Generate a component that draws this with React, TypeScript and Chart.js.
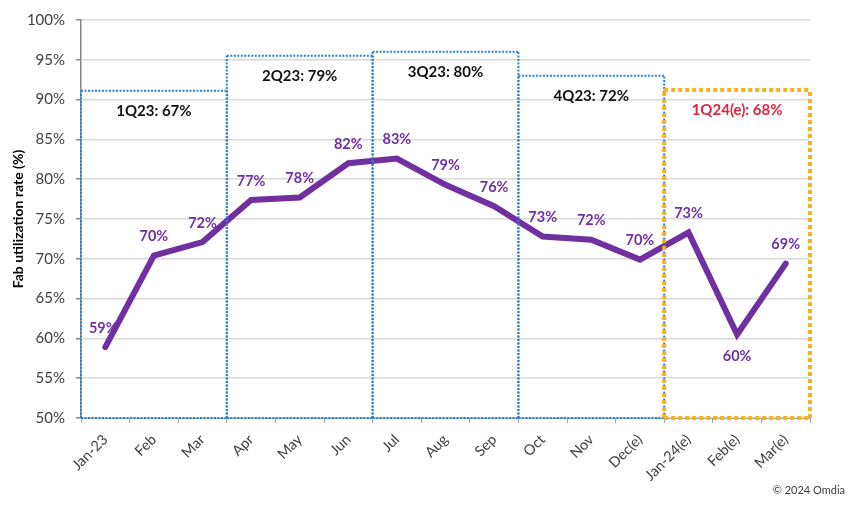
import React, { useEffect, useRef } from "react";
import { Chart, registerables } from "chart.js";

Chart.register(...registerables);

const categories = [
  "Jan-23", "Feb", "Mar", "Apr", "May", "Jun", "Jul", "Aug", "Sep",
  "Oct", "Nov", "Dec(e)", "Jan-24(e)", "Feb(e)", "Mar(e)",
];
const utilization = [58.9, 70.4, 72.1, 77.4, 77.7, 82.0, 82.6, 79.3, 76.6, 72.8, 72.4, 69.9, 73.3, 60.5, 69.4];
const pointLabels = ["59%", "70%", "72%", "77%", "78%", "82%", "83%", "79%", "76%", "73%", "72%", "70%", "73%", "60%", "69%"];

const quarterNames = ["1Q23: 67%", "2Q23: 79%", "3Q23: 80%", "4Q23: 72%", "1Q24(e): 68%"];
const quarterStart = [0, 3, 6, 9, 12];
const quarterEnd = [2, 5, 8, 11, 14];
const quarterTop = [91.1, 95.5, 96.0, 93.0, 91.2];
const quarterEstimated = [false, false, false, false, true];

const yTicksMin = 50;
const yTicksMax = 100;
const yTickStep = 5;

const FONT = 'Lato, "Noto Sans", sans-serif';
const PURPLE = "#7030a0";
const BLUE = "#2a80d2";
const ORANGE = "#f4b122";
const RED = "#e0253f";

function line(ctx: CanvasRenderingContext2D, x1: number, y1: number, x2: number, y2: number) {
  ctx.beginPath();
  ctx.moveTo(x1, y1);
  ctx.lineTo(x2, y2);
  ctx.stroke();
}

const overlayPlugin = {
  id: "overlay",
  afterDatasetsDraw(chart: any) {
    const ctx = chart.ctx;
    const x = chart.scales.x;
    const y = chart.scales.y;
    const half = (x.getPixelForValue(1) - x.getPixelForValue(0)) / 2;

    // quarter boxes (blue first, estimated orange last)
    const order = quarterNames.map((_, i) => i).sort((a, b) => Number(quarterEstimated[a]) - Number(quarterEstimated[b]));
    order.forEach((i) => {
      const left = x.getPixelForValue(quarterStart[i]) - half;
      const right = x.getPixelForValue(quarterEnd[i]) + half;
      const top = y.getPixelForValue(quarterTop[i]);
      const bottom = y.getPixelForValue(yTicksMin);
      ctx.save();
      if (quarterEstimated[i]) {
        ctx.strokeStyle = ORANGE;
        ctx.lineWidth = 4;
        ctx.setLineDash([4, 3]);
      } else {
        ctx.strokeStyle = BLUE;
        ctx.lineWidth = 2;
        ctx.setLineDash([2, 1.5]);
      }
      line(ctx, left, top, right, top);
      line(ctx, left, bottom, left, top);
      line(ctx, right, bottom, right, top);
      line(ctx, left, bottom, right, bottom);
      ctx.restore();
    });

    // quarter labels
    quarterNames.forEach((name, i) => {
      const left = x.getPixelForValue(quarterStart[i]) - half;
      const right = x.getPixelForValue(quarterEnd[i]) + half;
      const top = y.getPixelForValue(quarterTop[i]);
      ctx.save();
      ctx.font = `bold 15px ${FONT}`;
      ctx.fillStyle = quarterEstimated[i] ? RED : "#111111";
      ctx.textAlign = "center";
      ctx.textBaseline = "middle";
      ctx.fillText(name, (left + right) / 2, top + 20);
      ctx.restore();
    });

    // point labels
    const meta = chart.getDatasetMeta(0);
    const BELOW = new Set([13]);
    meta.data.forEach((pt: any, i: number) => {
      ctx.save();
      ctx.font = `bold 14.5px ${FONT}`;
      ctx.fillStyle = PURPLE;
      ctx.textAlign = "center";
      ctx.textBaseline = "middle";
      const dy = BELOW.has(i) ? 22 : -19;
      const dx = i === 0 ? -2 : 0;
      ctx.fillText(pointLabels[i], pt.x + dx, pt.y + dy);
      ctx.restore();
    });

    // y-axis title
    ctx.save();
    ctx.translate(18, (chart.chartArea.top + chart.chartArea.bottom) / 2);
    ctx.rotate(-Math.PI / 2);
    ctx.font = `bold 14px ${FONT}`;
    ctx.fillStyle = "#000000";
    ctx.textAlign = "center";
    ctx.textBaseline = "middle";
    ctx.fillText("Fab utilization rate (%)", 0, 0);
    ctx.restore();

    // copyright
    ctx.save();
    ctx.font = `11px ${FONT}`;
    ctx.fillStyle = "#404040";
    ctx.textAlign = "right";
    ctx.textBaseline = "middle";
    ctx.fillText("\u00a9 2024 Omdia", 845, 490);
    ctx.restore();
  },
};

export default function App() {
  const canvasRef = useRef<HTMLCanvasElement | null>(null);

  useEffect(() => {
    if (!canvasRef.current) return;
    const chart = new Chart(canvasRef.current, {
      type: "line",
      data: {
        labels: categories,
        datasets: [
          {
            data: utilization,
            borderColor: PURPLE,
            backgroundColor: PURPLE,
            borderWidth: 6,
            borderCapStyle: "round",
            borderJoinStyle: "miter",
            pointRadius: 0,
            pointHoverRadius: 0,
            tension: 0,
          },
        ],
      },
      options: {
        animation: false,
        responsive: true,
        maintainAspectRatio: false,
        devicePixelRatio: 1,
        layout: { padding: { left: 0, top: 20, right: 52, bottom: 0 } },
        plugins: {
          legend: { display: false },
          tooltip: { enabled: false },
        },
        scales: {
          x: {
            offset: true,
            grid: {
              display: true,
              drawOnChartArea: false,
              offset: true,
              tickLength: 5,
              tickColor: "#a6a6a6",
            },
            border: { color: "#a6a6a6" },
            ticks: {
              minRotation: 45,
              maxRotation: 45,
              autoSkip: false,
              padding: 8,
              color: "#404040",
              font: { family: FONT, size: 14.5 },
            },
            afterFit: (scale: any) => {
              scale.height = 92;
            },
          },
          y: {
            min: yTicksMin,
            max: yTicksMax,
            grid: {
              color: "#d9d9d9",
              lineWidth: 1.5,
              tickLength: 5,
              tickColor: "#868686",
            },
            border: { color: "#868686", width: 1.5 },
            ticks: {
              stepSize: yTickStep,
              padding: 11,
              color: "#404040",
              font: { family: FONT, size: 15 },
              callback: (v: any) => `${v}%`,
            },
            afterFit: (scale: any) => {
              scale.width = 81;
            },
          },
        },
      },
      plugins: [overlayPlugin],
    });
    return () => chart.destroy();
  }, []);

  return (
    <div style={{ position: "fixed", left: 0, top: 0, width: 862, height: 510, background: "#ffffff" }}>
      <canvas ref={canvasRef} />
    </div>
  );
}
